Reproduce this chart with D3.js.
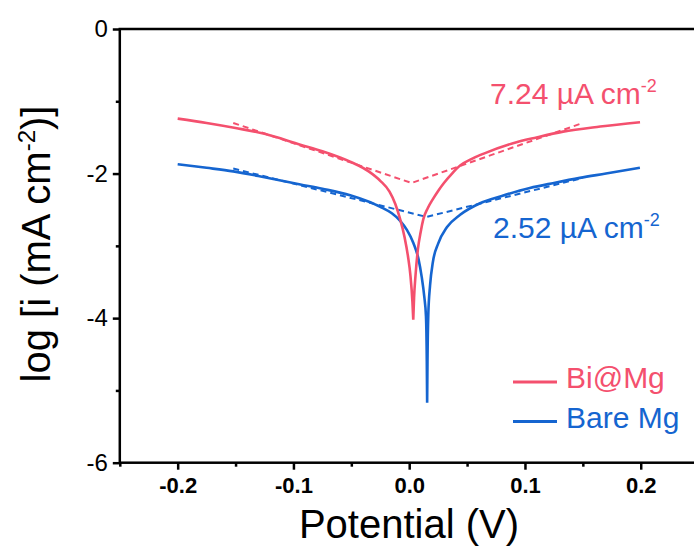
<!DOCTYPE html>
<html>
<head>
<meta charset="utf-8">
<script src="https://cdn.jsdelivr.net/npm/d3@7"></script>
<style>
  body { margin: 0; background: #fff; }
  svg { display: block; font-family: "Liberation Sans", Arial, sans-serif; }
</style>
</head>
<body>
<div id="chart-area"></div>
<script>
// Tafel plot: Bi@Mg vs Bare Mg

// Bi@Mg polarisation curve (potential V, log i); cathodic branch then anodic branch
var biE   = [-0.200, -0.175, -0.150, -0.125, -0.094, -0.075, -0.051, -0.035, -0.025, -0.017, -0.012, -0.008, -0.004, -0.001, 0.001, 0.0028, 0.0035,
             0.0042, 0.0055, 0.0075, 0.0100, 0.0122, 0.0160, 0.0206, 0.0250, 0.0300, 0.0370, 0.0440, 0.0550, 0.0650, 0.0897, 0.1100, 0.1329, 0.1650, 0.1994];
var biLog = [-1.24, -1.30, -1.37, -1.45, -1.60, -1.69, -1.835, -1.97, -2.10, -2.25, -2.42, -2.62, -2.88, -3.15, -3.40, -3.78, -4.02,
             -3.72, -3.40, -3.05, -2.80, -2.63, -2.48, -2.35, -2.24, -2.13, -2.00, -1.89, -1.79, -1.72, -1.58, -1.50, -1.42, -1.35, -1.29];

// Bare Mg polarisation curve
var bareE   = [-0.200, -0.175, -0.152, -0.125, -0.094, -0.075, -0.051, -0.0365, -0.025, -0.015, -0.008, -0.002, 0.0036, 0.0080, 0.0108, 0.0130, 0.0145, 0.0152, 0.0155,
               0.0158, 0.0165, 0.0180, 0.0205, 0.0250, 0.0327, 0.0440, 0.0612, 0.0800, 0.1042, 0.1250, 0.1474, 0.1700, 0.1993];
var bareLog = [-1.87, -1.92, -1.97, -2.05, -2.15, -2.21, -2.30, -2.38, -2.46, -2.55, -2.65, -2.78, -2.96, -3.18, -3.43, -3.70, -3.98, -4.60, -5.17,
               -4.60, -3.95, -3.55, -3.22, -2.97, -2.74, -2.57, -2.41, -2.31, -2.20, -2.13, -2.06, -2.00, -1.92];

// Tafel fit lines (dashed)
var biFitE   = [-0.152, 0.002, 0.150];
var biFitLog = [-1.30, -2.13, -1.30];
var bareFitE   = [-0.152, 0.015, 0.150];
var bareFitLog = [-1.93, -2.60, -2.06];

var xTicks = [-0.2, -0.1, 0.0, 0.1, 0.2];
var xMinor = [-0.25, -0.15, -0.05, 0.05, 0.15, 0.25];
var yTicks = [-6, -4, -2, 0];
var yMinor = [-5, -3, -1];

var red = "#f4506e", blue = "#1565d0";

var width = 694, height = 547;

var xScale = d3.scaleLinear().domain([-0.25, 0.25]).range([119.8, 698.6]);
var yScale = d3.scaleLinear().domain([-6, 0]).range([462.7, 29]);

var svg = d3.select("#chart-area")
    .append("svg")
    .attr("width", width)
    .attr("height", height);

function pairs(a, b) { return a.map((v, i) => [v, b[i]]); }

var straight = d3.line()
    .x(d => xScale(d[0]))
    .y(d => yScale(d[1]));

var smooth = d3.line()
    .x(d => xScale(d[0]))
    .y(d => yScale(d[1]))
    .curve(d3.curveMonotoneX);

// split a curve at its minimum so each branch is monotone in x
function branches(E, L) {
    var k = d3.minIndex(L);
    var pts = pairs(E, L);
    return smooth(pts.slice(0, k + 1)) + smooth(pts.slice(k));
}

// fit lines
svg.append("path")
    .attr("d", straight(pairs(biFitE, biFitLog)))
    .attr("fill", "none").attr("stroke", red)
    .attr("stroke-width", 2).attr("stroke-dasharray", "6,4");
svg.append("path")
    .attr("d", straight(pairs(bareFitE, bareFitLog)))
    .attr("fill", "none").attr("stroke", blue)
    .attr("stroke-width", 2).attr("stroke-dasharray", "6,4");

// measured curves
svg.append("path")
    .attr("d", branches(bareE, bareLog))
    .attr("fill", "none").attr("stroke", blue)
    .attr("stroke-width", 2.6).attr("stroke-linejoin", "round");
svg.append("path")
    .attr("d", branches(biE, biLog))
    .attr("fill", "none").attr("stroke", red)
    .attr("stroke-width", 2.6).attr("stroke-linejoin", "round");

// axes
var bottomAxis = d3.axisBottom(xScale).tickValues(xTicks)
    .tickSize(7).tickPadding(8).tickFormat(d => d.toFixed(1));
var bottomMinor = d3.axisBottom(xScale).tickValues(xMinor)
    .tickSize(4).tickFormat("");
var leftAxis = d3.axisLeft(yScale).tickValues(yTicks)
    .tickSize(7).tickPadding(5).tickFormat(d => String(d));
var leftMinor = d3.axisLeft(yScale).tickValues(yMinor)
    .tickSize(4).tickFormat("");

function styleAxis(g) {
    g.select(".domain").remove();
    g.selectAll(".tick line").attr("stroke", "#000").attr("stroke-width", 2.5);
}

var xg = svg.append("g").attr("transform", "translate(0," + yScale(-6) + ")").call(bottomAxis).call(styleAxis);
xg.selectAll("text").attr("font-size", "22px").attr("font-weight", "bold")
    .attr("font-family", "Liberation Sans, Arial, sans-serif").attr("fill", "#000");
svg.append("g").attr("transform", "translate(0," + yScale(-6) + ")").call(bottomMinor).call(styleAxis);

var yg = svg.append("g").attr("transform", "translate(" + xScale(-0.25) + ",0)").call(leftAxis).call(styleAxis);
yg.selectAll("text").attr("font-size", "24px")
    .attr("font-family", "Liberation Sans, Arial, sans-serif").attr("fill", "#000");
svg.append("g").attr("transform", "translate(" + xScale(-0.25) + ",0)").call(leftMinor).call(styleAxis);

// frame
svg.append("rect")
    .attr("x", xScale(-0.25)).attr("y", yScale(0))
    .attr("width", xScale(0.25) - xScale(-0.25))
    .attr("height", yScale(-6) - yScale(0))
    .attr("fill", "none").attr("stroke", "#000").attr("stroke-width", 2.5);

// axis titles
svg.append("text")
    .attr("x", 409).attr("y", 538)
    .attr("text-anchor", "middle")
    .attr("font-size", "40px")
    .text("Potential (V)");

var yLabel = svg.append("text")
    .attr("transform", "translate(50,244) rotate(-90)")
    .attr("text-anchor", "middle")
    .attr("font-size", "40px");
yLabel.append("tspan").text("log [i (mA cm");
yLabel.append("tspan").attr("font-size", "24px").attr("dy", -15).text("-2");
yLabel.append("tspan").attr("dy", 15).text(")]");

// i_corr annotations
function annot(x, y, txt, color) {
    var t = svg.append("text").attr("x", x).attr("y", y)
        .attr("font-size", "30px").attr("fill", color);
    t.append("tspan").text(txt);
    t.append("tspan").attr("font-size", "18px").attr("dy", -12).text("-2");
}
annot(490, 104, "7.24 \u00b5A cm", red);
annot(493, 238, "2.52 \u00b5A cm", blue);

// legend
var series = [["Bi@Mg", red, 382], ["Bare Mg", blue, 421.5]];
series.forEach(s => {
    svg.append("line")
        .attr("x1", 513).attr("x2", 557)
        .attr("y1", s[2]).attr("y2", s[2])
        .attr("stroke", s[1]).attr("stroke-width", 3);
    svg.append("text")
        .attr("x", 566).attr("y", s[2] + 6)
        .attr("font-size", "30px").attr("fill", s[1])
        .text(s[0]);
});
</script>
</body>
</html>
